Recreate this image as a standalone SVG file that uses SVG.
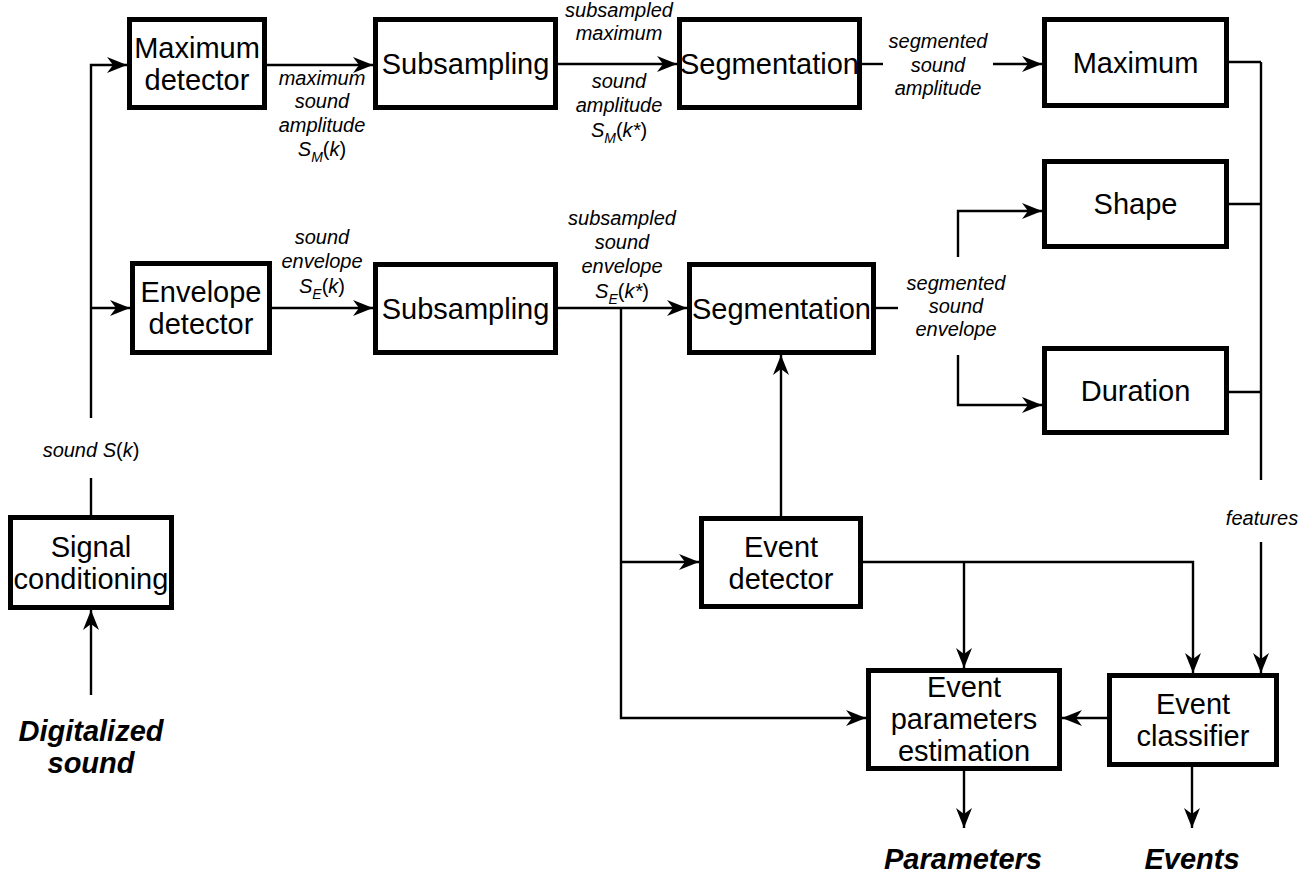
<svg xmlns="http://www.w3.org/2000/svg" width="1315" height="876" viewBox="0 0 1315 876">
<style>
.box{fill:#fff;stroke:#000;stroke-width:5}
.bt{font-family:"Liberation Sans",Arial,sans-serif;font-size:29px;fill:#000;text-anchor:middle}
.lb{font-family:"Liberation Sans",Arial,sans-serif;font-size:20px;font-style:italic;fill:#000;text-anchor:middle}
.io{font-family:"Liberation Sans",Arial,sans-serif;font-size:29px;font-style:italic;font-weight:bold;fill:#000;text-anchor:middle}
.sub{font-size:14px}
.up{font-style:normal}
.c{fill:none;stroke:#000;stroke-width:2.4}
.a{marker-end:url(#ah)}
</style>
<defs>
<marker id="ah" markerUnits="userSpaceOnUse" markerWidth="20" markerHeight="16" refX="20" refY="8" orient="auto">
<path d="M0,0 L20,8 L0,16 L6,8 Z" fill="#000"/>
</marker>
</defs>
<rect width="1315" height="876" fill="#fff"/>
<g id="connectors">
<path class="c" d="M91,515 V478"/>
<path class="c a" d="M91,418 V65 H127"/>
<path class="c a" d="M91,308 H130"/>
<path class="c a" d="M91,695 V610"/>
<path class="c a" d="M267,65 H373"/>
<path class="c a" d="M558,64 H677"/>
<path class="c" d="M862,64 H883"/>
<path class="c a" d="M993,64 H1042"/>
<path class="c a" d="M272,308 H373"/>
<path class="c a" d="M558,308 H687"/>
<path class="c" d="M876,308 H898"/>
<path class="c a" d="M958,257 V211 H1042"/>
<path class="c a" d="M958,355 V405 H1042"/>
<path class="c" d="M1229,62 H1261 M1229,204 H1261 M1229,392 H1261 M1261,62 V480"/>
<path class="c a" d="M1261,542 V673"/>
<path class="c a" d="M621,308 V718 H866"/>
<path class="c a" d="M621,562 H699"/>
<path class="c a" d="M781,516 V355"/>
<path class="c a" d="M863,562 H1193 V673"/>
<path class="c a" d="M964,562 V668"/>
<path class="c a" d="M1107,718 H1062"/>
<path class="c a" d="M964,771 V828"/>
<path class="c a" d="M1192,767 V828"/>
</g>
<g id="labels">
<text class="lb" x="322" y="85">maximum</text>
<text class="lb" x="322" y="108">sound</text>
<text class="lb" x="322" y="132">amplitude</text>
<text class="lb" x="322" y="156">S<tspan class="sub" dy="6">M</tspan><tspan class="up" dy="-6">(</tspan>k<tspan class="up">)</tspan></text>
<text class="lb" x="619" y="17">subsampled</text>
<text class="lb" x="619" y="40">maximum</text>
<text class="lb" x="619" y="88">sound</text>
<text class="lb" x="619" y="112">amplitude</text>
<text class="lb" x="619" y="137">S<tspan class="sub" dy="6">M</tspan><tspan class="up" dy="-6">(</tspan>k*<tspan class="up">)</tspan></text>
<text class="lb" x="938" y="48">segmented</text>
<text class="lb" x="938" y="72">sound</text>
<text class="lb" x="938" y="95">amplitude</text>
<text class="lb" x="322" y="244">sound</text>
<text class="lb" x="322" y="268">envelope</text>
<text class="lb" x="322" y="293">S<tspan class="sub" dy="6">E</tspan><tspan class="up" dy="-6">(</tspan>k<tspan class="up">)</tspan></text>
<text class="lb" x="622" y="225">subsampled</text>
<text class="lb" x="622" y="249">sound</text>
<text class="lb" x="622" y="273">envelope</text>
<text class="lb" x="622" y="298">S<tspan class="sub" dy="6">E</tspan><tspan class="up" dy="-6">(</tspan>k*<tspan class="up">)</tspan></text>
<text class="lb" x="956" y="290">segmented</text>
<text class="lb" x="956" y="313">sound</text>
<text class="lb" x="956" y="336">envelope</text>
<text class="lb" x="91" y="457">sound S<tspan class="up">(</tspan>k<tspan class="up">)</tspan></text>
<text class="lb" x="1262" y="525">features</text>
<text class="io" x="91" y="741">Digitalized</text>
<text class="io" x="91" y="773">sound</text>
<text class="io" x="963" y="869">Parameters</text>
<text class="io" x="1192" y="869">Events</text>
</g>
<g id="max-detector"><rect class="box" x="129.5" y="19.5" width="135" height="88"/><text class="bt" x="197" y="57.5">Maximum</text><text class="bt" x="197" y="89.5">detector</text></g>
<g id="subsampling-1"><rect class="box" x="375.5" y="19.5" width="180" height="88"/><text class="bt" x="465.5" y="73.5">Subsampling</text></g>
<g id="segmentation-1"><rect class="box" x="679.5" y="19.5" width="180" height="88"/><text class="bt" x="769.5" y="73.5">Segmentation</text></g>
<g id="maximum"><rect class="box" x="1044.5" y="19.5" width="182" height="86"/><text class="bt" x="1135.5" y="72.5">Maximum</text></g>
<g id="shape"><rect class="box" x="1044.5" y="161.5" width="182" height="85"/><text class="bt" x="1135.5" y="214">Shape</text></g>
<g id="duration"><rect class="box" x="1044.5" y="348.5" width="182" height="84"/><text class="bt" x="1135.5" y="400.5">Duration</text></g>
<g id="envelope-detector"><rect class="box" x="132.5" y="263.5" width="137" height="89"/><text class="bt" x="201" y="302">Envelope</text><text class="bt" x="201" y="334">detector</text></g>
<g id="subsampling-2"><rect class="box" x="375.5" y="264.5" width="180" height="88"/><text class="bt" x="465.5" y="318.5">Subsampling</text></g>
<g id="segmentation-2"><rect class="box" x="689.5" y="264.5" width="184" height="88"/><text class="bt" x="781.5" y="318.5">Segmentation</text></g>
<g id="event-detector"><rect class="box" x="701.5" y="518.5" width="159" height="88"/><text class="bt" x="781" y="556.5">Event</text><text class="bt" x="781" y="588.5">detector</text></g>
<g id="signal-conditioning"><rect class="box" x="10.5" y="517.5" width="161" height="90"/><text class="bt" x="91" y="556.5">Signal</text><text class="bt" x="91" y="588.5">conditioning</text></g>
<g id="event-parameters"><rect class="box" x="868.5" y="670.5" width="191" height="98"/><text class="bt" x="964" y="697">Event</text><text class="bt" x="964" y="729">parameters</text><text class="bt" x="964" y="761">estimation</text></g>
<g id="event-classifier"><rect class="box" x="1109.5" y="675.5" width="167" height="89"/><text class="bt" x="1193" y="713.5">Event</text><text class="bt" x="1193" y="745.5">classifier</text></g>
</svg>
